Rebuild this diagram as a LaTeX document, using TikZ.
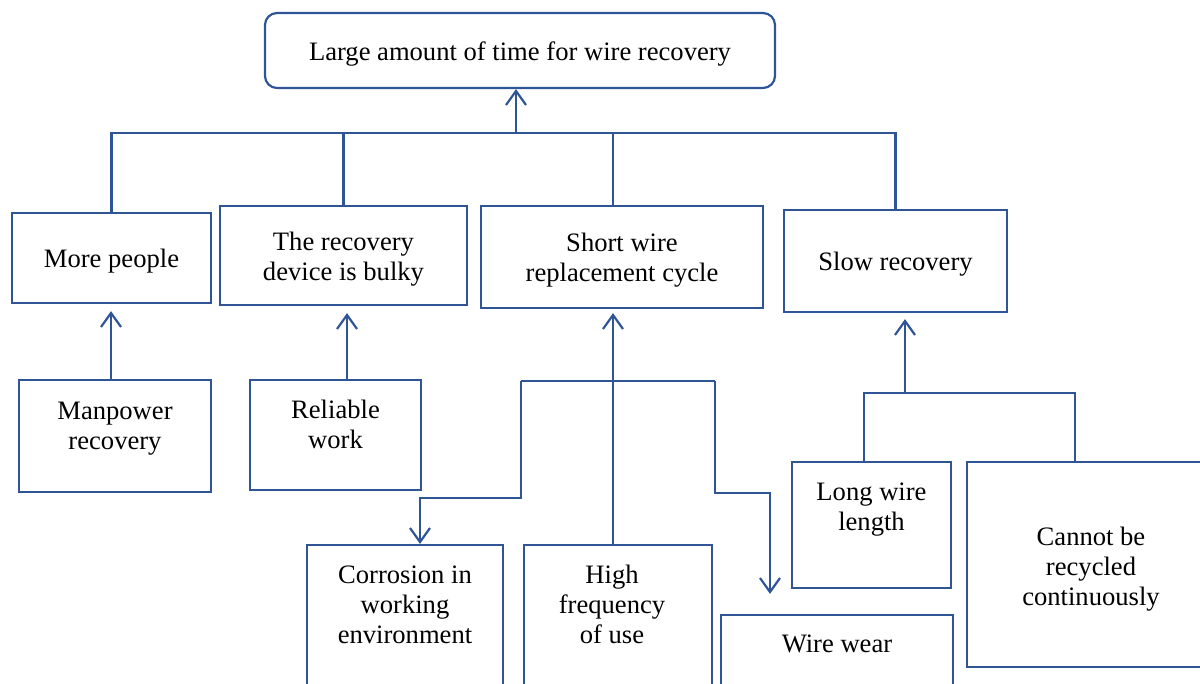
\documentclass[tikz,border=0pt]{standalone}
\usepackage{fontspec}
\setmainfont{Liberation Serif}
\usetikzlibrary{arrows.meta}
\definecolor{lineblue}{RGB}{47,85,151}
\newcommand{\boxtext}[2]{\raisebox{#1}[\height][\depth]{\begin{tabular}{@{}c@{}}#2\end{tabular}}}
\begin{document}
\begin{tikzpicture}[x=0.5pt,y=-0.5pt,
  box/.style={draw=lineblue,line width=1.1pt,rectangle,inner sep=0pt,font=\fontsize{13.3}{15}\selectfont},
  conn/.style={draw=lineblue,line width=1.1pt},
  arr/.style={conn,-{Straight Barb[length=7pt,width=10pt]}},
]
\useasboundingbox (0,0) rectangle (1200,684);
\clip (0,0) rectangle (1200,684);
% boxes
\node[box,rounded corners=6pt,minimum width=255pt,minimum height=37.5pt] (top) at (520,50.5) {\boxtext{-2pt}{Large amount of time for wire recovery}};
\node[box,minimum width=99.5pt,minimum height=45pt] (more) at (111.5,258) {\boxtext{-2pt}{More people}};
\node[box,minimum width=123.5pt,minimum height=49.5pt] (bulky) at (343.5,255.5) {\boxtext{-2pt}{The recovery\\device is bulky}};
\node[box,minimum width=141pt,minimum height=51pt] (short) at (622,257) {\boxtext{-2pt}{Short wire\\replacement cycle}};
\node[box,minimum width=111.5pt,minimum height=51pt] (slow) at (895.5,261) {\boxtext{-2pt}{Slow recovery}};
\node[box,minimum width=96pt,minimum height=56pt] (man) at (115,436) {\boxtext{4pt}{Manpower\\recovery}};
\node[box,minimum width=85.5pt,minimum height=55pt] (rel) at (335.5,435) {\boxtext{4pt}{Reliable\\work}};
\node[box,minimum width=98pt,minimum height=87.5pt] (corr) at (405,632.5) {\boxtext{12.5pt}{Corrosion in\\working\\environment}};
\node[box,minimum width=94pt,minimum height=87.5pt] (high) at (618,632.5) {\hspace*{-6pt}\boxtext{12.5pt}{High\\frequency\\of use}};
\node[box,minimum width=116pt,minimum height=52.5pt] (wear) at (837,667.5) {\boxtext{10.5pt}{Wire wear}};
\node[box,minimum width=79.5pt,minimum height=63pt] (long) at (871.5,525) {\boxtext{8pt}{Long wire\\length}};
\node[box,minimum width=124pt,minimum height=102.5pt] (cannot) at (1091,564.5) {\boxtext{-2.5pt}{Cannot be\\recycled\\continuously}};
% top bus
\coordinate (bus) at (516,133);
\coordinate (sw) at (613,133);
\draw[conn] (more.north) -- (more.north |- bus) -- (slow.north |- bus) -- (slow.north);
\draw[conn] (bulky.north) -- (bulky.north |- bus);
\draw[conn] (sw |- short.north) -- (sw);
\draw[arr] (bus) -- (bus |- top.south);
% level 3 arrows
\coordinate (ma) at (111,380);
\coordinate (ra) at (347,380);
\draw[arr,shorten >=3.5pt] (ma |- man.north) -- (ma |- more.south);
\draw[arr,shorten >=3.5pt] (ra |- rel.north) -- (ra |- bulky.south);
% short wire group
\coordinate (hb) at (613,381);
\coordinate (hl) at (521,381);
\coordinate (hr) at (715,381);
\coordinate (kl) at (521,498);
\coordinate (cl) at (420,498);
\coordinate (kr) at (715,493);
\coordinate (cr) at (770,493);
\draw[arr,shorten >=2pt] (hb |- high.north) -- (hb |- short.south);
\draw[conn] (hl) -- (hr);
\draw[arr] (hl) -- (kl) -- (cl) -- (cl |- corr.north);
\draw[arr,shorten >=10pt] (hr) -- (kr) -- (cr) -- (cr |- wear.north);
% slow group
\coordinate (sb) at (905,393);
\coordinate (sl) at (864,393);
\coordinate (sr) at (1075,393);
\draw[arr,shorten >=3pt] (sb) -- (sb |- slow.south);
\draw[conn] (sl |- long.north) -- (sl) -- (sr) -- (sr |- cannot.north);
\end{tikzpicture}
\end{document}
